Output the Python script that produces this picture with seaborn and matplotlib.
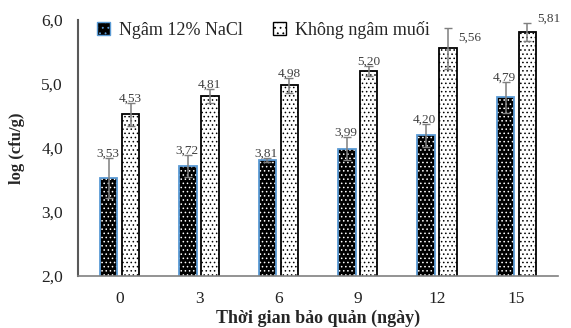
import matplotlib.pyplot as plt
import seaborn as sns
import pandas as pd
from matplotlib.patches import Rectangle
from matplotlib.ticker import FuncFormatter

# Data
days = ['0', '3', '6', '9', '12', '15']
groups = ['Ngâm 12% NaCl', 'Không ngâm muối']
nacl_vals = [3.53, 3.72, 3.81, 3.99, 4.20, 4.79]
nacl_err = [0.31, 0.17, 0.03, 0.18, 0.18, 0.24]
plain_vals = [4.53, 4.81, 4.98, 5.20, 5.56, 5.81]
plain_err = [0.18, 0.11, 0.12, 0.08, 0.32, 0.14]

sns.set_theme(style='white')
plt.rcParams['font.family'] = ['Liberation Serif', 'DejaVu Serif']
plt.rcParams['hatch.linewidth'] = 0.6

df = pd.DataFrame({
    'day': days * 2,
    'value': nacl_vals + plain_vals,
    'group': [groups[0]] * len(days) + [groups[1]] * len(days),
})

fig, ax = plt.subplots(figsize=(5.71, 3.28), dpi=100)
fig.subplots_adjust(left=0.137, right=0.977, bottom=0.159, top=0.939)

sns.barplot(data=df, x='day', y='value', hue='group', order=days,
            hue_order=groups, palette=['black', 'white'], width=0.55,
            gap=0.2, errorbar=None, legend=False, ax=ax)

# styling the bars: black with white dots + blue outline, white with black dots
for p in ax.containers[0]:
    p.set_edgecolor('white')
    p.set_hatch('....')
    p.set_linewidth(0)
    ax.add_patch(Rectangle((p.get_x(), p.get_y()), p.get_width(), p.get_height(),
                           fill=False, edgecolor='#5B9BD5', linewidth=1.3, zorder=p.get_zorder() + 0.1))
for p in ax.containers[1]:
    p.set_edgecolor('black')
    p.set_hatch('....')
    p.set_linewidth(1.3)

# error bars and value labels
for cont, vals, errs in [(ax.containers[0], nacl_vals, nacl_err),
                         (ax.containers[1], plain_vals, plain_err)]:
    xs = [p.get_x() + p.get_width() / 2 for p in cont]
    ax.errorbar(xs, vals, yerr=errs, fmt='none', ecolor='#7f7f7f',
                elinewidth=1.1, capsize=3, capthick=1.0, zorder=5)

for i, (p, v, e) in enumerate(zip(ax.containers[0], nacl_vals, nacl_err)):
    ax.annotate(f'{v:.2f}'.replace('.', ','), (p.get_x() + p.get_width() / 2, v + e),
                xytext=(-1, 3), textcoords='offset points', ha='center', va='center',
                fontsize=9.5, color='#404040', zorder=6)
for i, (p, v, e) in enumerate(zip(ax.containers[1], plain_vals, plain_err)):
    txt = f'{v:.2f}'.replace('.', ',')
    if i >= 4:
        dy = -7 if i == 4 else 3
        ax.annotate(txt, (p.get_x() + p.get_width(), v + e),
                    xytext=(1, dy), textcoords='offset points', ha='left', va='center',
                    fontsize=9.5, color='#404040', zorder=6)
    else:
        ax.annotate(txt, (p.get_x() + p.get_width() / 2, v + e),
                    xytext=(0, 3), textcoords='offset points', ha='center', va='center',
                    fontsize=9.5, color='#404040', zorder=6)

ax.set_ylim(2.0, 6.0)
ax.set_yticks([2.0, 3.0, 4.0, 5.0, 6.0])
ax.yaxis.set_major_formatter(FuncFormatter(lambda y, _: f'{y:.1f}'.replace('.', ',')))
ax.tick_params(axis='both', labelsize=12.5, length=0, pad=11, colors='#222222')

ax.set_xlabel('Thời gian bảo quản (ngày)', fontsize=13, fontweight='bold', labelpad=2)
ax.set_ylabel('log (cfu/g)', fontsize=12, fontweight='bold', labelpad=12)

sns.despine(ax=ax)
ax.spines['left'].set_color('#595959')
ax.spines['left'].set_linewidth(1.5)
ax.spines['bottom'].set_color('#808080')
ax.spines['bottom'].set_linewidth(1.2)

# legend with small square handles
handles = [Rectangle((0, 0), 1, 1, facecolor='black', edgecolor='#5B9BD5', hatch='...', linewidth=1.0),
           Rectangle((0, 0), 1, 1, facecolor='white', edgecolor='black', hatch='...', linewidth=1.0)]
ax.legend(handles, groups, ncol=2, loc='upper left', bbox_to_anchor=(0.005, 1.06),
          frameon=False, fontsize=13, handlelength=0.7, handleheight=0.7,
          handletextpad=0.5, columnspacing=1.7)

plt.savefig('out.png', dpi=100)
